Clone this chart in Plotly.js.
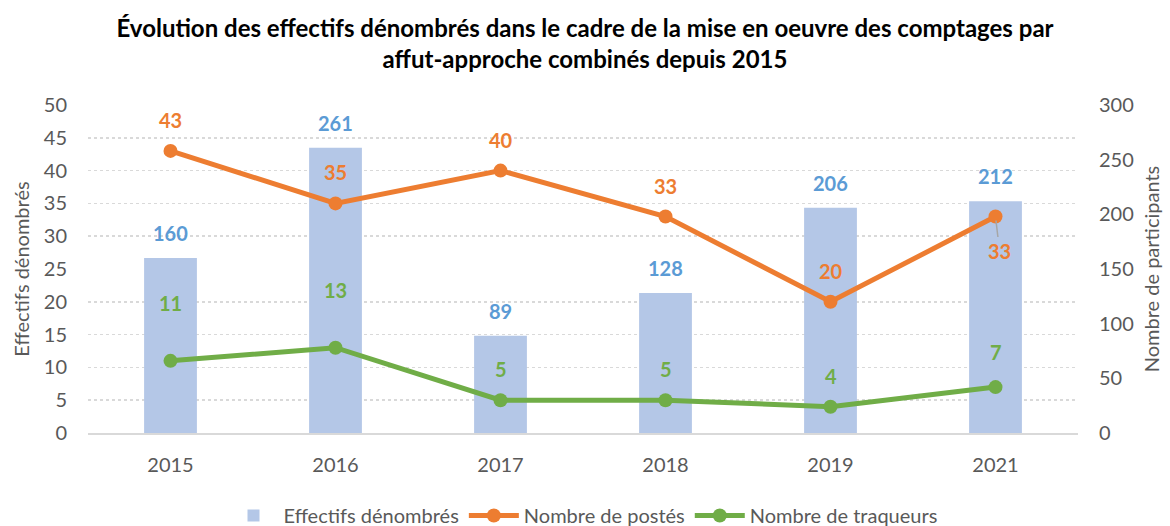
<!DOCTYPE html>
<html>
<head>
<meta charset="utf-8">
<script src="https://cdn.plot.ly/plotly-3.0.1.min.js"></script>
<style>html,body{margin:0;padding:0;background:#fff;}#chart{width:1170px;height:526px;}</style>
</head>
<body>
<div id="chart"></div>
<script>
var years = ["2015", "2016", "2017", "2018", "2019", "2021"];
var effectifs = [160, 261, 89, 128, 206, 212];
var postes = [43, 35, 40, 33, 20, 33];
var traqueurs = [11, 13, 5, 5, 4, 7];

// label offsets (pixels, style only)
var barShift = 25;
var postesShift = [31, 31, 31, 31, 31, -34];
var traqueursShift = [58, 58, 31, 31, 31, 35];

var pos = years.map(function (_, i) { return i; });

var FONT = "Lato, 'Open Sans', Arial, sans-serif";
var BLUE_BAR = "#b4c7e7", BLUE_LBL = "#5b9bd5", ORANGE = "#ed7d31", GREEN = "#70ad47", GREY = "#595959";

var traces = [
  {type: "bar", name: "Effectifs dénombrés", x: pos, y: effectifs, yaxis: "y",
   marker: {color: BLUE_BAR}, width: 0.32},
  {type: "scatter", mode: "lines+markers", name: "Nombre de postés", x: pos, y: postes, yaxis: "y2",
   line: {color: ORANGE, width: 5}, marker: {color: ORANGE, size: 14}, cliponaxis: false},
  {type: "scatter", mode: "lines+markers", name: "Nombre de traqueurs", x: pos, y: traqueurs, yaxis: "y2",
   line: {color: GREEN, width: 5}, marker: {color: GREEN, size: 14}, cliponaxis: false}
];

var annotations = [];
pos.forEach(function (p, i) {
  annotations.push({x: p, y: effectifs[i], xref: "x", yref: "y", text: String(effectifs[i]),
    showarrow: false, yshift: barShift, font: {color: BLUE_LBL, size: 20, family: FONT, weight: "bold"}});
  if (postesShift[i] > 0) {
    annotations.push({x: p, y: postes[i], xref: "x", yref: "y2", text: String(postes[i]),
      showarrow: false, yshift: postesShift[i], font: {color: ORANGE, size: 20, family: FONT, weight: "bold"}});
  } else {
    annotations.push({x: p, y: postes[i], xref: "x", yref: "y2", text: String(postes[i]),
      showarrow: true, ax: 4, ay: -postesShift[i], arrowhead: 0, arrowwidth: 1.5, arrowcolor: "#a6a6a6",
      standoff: 4, font: {color: ORANGE, size: 20, family: FONT, weight: "bold"}});
  }
  annotations.push({x: p, y: traqueurs[i], xref: "x", yref: "y2", text: String(traqueurs[i]),
    showarrow: false, yshift: traqueursShift[i], font: {color: GREEN, size: 20, family: FONT, weight: "bold"}});
});

var layout = {
  width: 1170, height: 526,
  margin: {l: 88, r: 92, t: 105, b: 93},
  paper_bgcolor: "#fff", plot_bgcolor: "#fff",
  font: {family: FONT, color: GREY, size: 20},
  title: {text: "Évolution des effectifs dénombrés dans le cadre de la mise en oeuvre des comptages par<br>affut-approche combinés depuis 2015",
          x: 0.5, xanchor: "center", y: 0.93, yanchor: "top",
          font: {family: FONT, size: 24, color: "#000", weight: "bold"}},
  xaxis: {range: [-0.5, 5.5], tickvals: pos, ticktext: years, showgrid: false, zeroline: false,
          showline: true, linecolor: "#d9d9d9", linewidth: 2, ticks: "", ticklabelstandoff: 13,
          tickfont: {size: 20, color: GREY}},
  yaxis: {range: [0, 300], dtick: 50, side: "right", showgrid: false, zeroline: false, showline: false,
          ticks: "", tickfont: {size: 20, color: GREY}, ticklabelstandoff: 20,
          minor: {dtick: 30, showgrid: true, gridcolor: "#d9d9d9", griddash: "dot", gridwidth: 1.5},
          title: {text: "Nombre de participants", font: {size: 20, color: GREY}, standoff: 12}},
  yaxis2: {range: [0, 50], dtick: 5, overlaying: "y", side: "left", showgrid: false, zeroline: false,
           showline: false, ticks: "", tickfont: {size: 20, color: GREY}, ticklabelstandoff: 20,
           title: {text: "Effectifs dénombrés", font: {size: 20, color: GREY}, standoff: 8}},
  showlegend: true,
  legend: {orientation: "h", x: 0.5, xanchor: "center", yref: "container", y: 0.02, yanchor: "middle",
           font: {size: 20, color: GREY}, itemwidth: 50},
  annotations: annotations
};

Plotly.newPlot("chart", traces, layout, {displayModeBar: false, staticPlot: true});
</script>
</body>
</html>
